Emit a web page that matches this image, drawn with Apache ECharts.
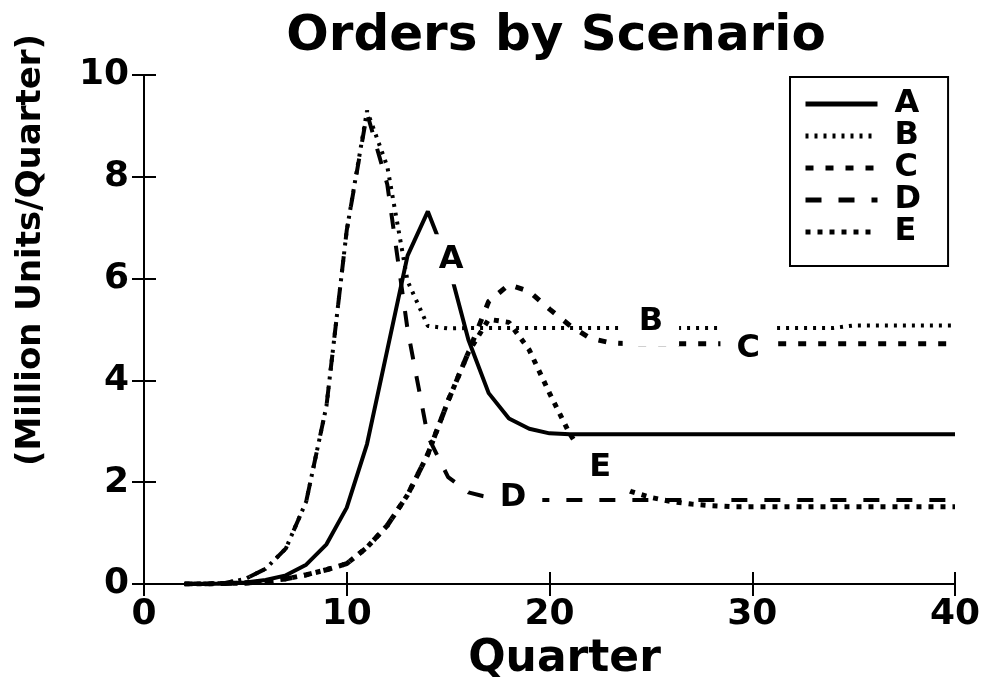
<!DOCTYPE html>
<html>
<head>
<meta charset="utf-8">
<title>Orders by Scenario</title>
<script src="https://cdn.jsdelivr.net/npm/echarts@6/dist/echarts.min.js"></script>
<style>
  html, body { margin: 0; padding: 0; background: #fff; }
  #chart { width: 987px; height: 677px; }
</style>
</head>
<body>
<div id="chart"></div>
<script>
/* ================================
   DATA
================================ */
const quarters = [2, 3, 4, 5, 6, 7, 8, 9, 10, 11, 12, 13, 14, 15, 16, 17, 18, 19, 20, 21,
                  22, 23, 24, 25, 26, 27, 28, 29, 30, 31, 32, 33, 34, 35, 36, 37, 38, 39, 40];

const seriesA = [0, 0, 0.01, 0.03, 0.08, 0.17, 0.38, 0.78, 1.5, 2.75, 4.6, 6.45, 7.32, 6.3, 4.8, 3.75, 3.25, 3.05, 2.96,
                 2.94, 2.94, 2.94, 2.94, 2.94, 2.94, 2.94, 2.94, 2.94, 2.94,
                 2.94, 2.94, 2.94, 2.94, 2.94, 2.94, 2.94, 2.94, 2.94, 2.94];
const seriesB = [0, 0.01, 0.02, 0.1, 0.3, 0.7, 1.62, 3.5, 6.95, 9.3, 8.2, 5.95, 5.07, 5.02,
                 5.03, 5.03, 5.03, 5.03, 5.03, 5.03, 5.03, 5.03, 5.03, 5.03,
                 5.03, 5.03, 5.03, 5.03, 5.03, 5.03, 5.03, 5.03, 5.03,
                 5.08, 5.08, 5.08, 5.08, 5.08, 5.08];
const seriesC = [0, 0, 0.01, 0.02, 0.05, 0.1, 0.18, 0.28, 0.4, 0.72, 1.15, 1.75, 2.55, 3.6, 4.55,
                 5.55, 5.88, 5.75, 5.4, 5.08, 4.83, 4.74, 4.72,
                 4.72, 4.72, 4.72, 4.72, 4.72, 4.72, 4.72, 4.72,
                 4.72, 4.72, 4.72, 4.72, 4.72, 4.72, 4.72, 4.72];
const seriesD = [0, 0.01, 0.02, 0.1, 0.3, 0.7, 1.62, 3.5, 6.95, 9.25, 7.85, 5.0, 2.9, 2.1, 1.8, 1.7, 1.67,
                 1.65, 1.65, 1.65, 1.65, 1.65, 1.65, 1.65, 1.65, 1.65, 1.65, 1.65,
                 1.65, 1.65, 1.65, 1.65, 1.65, 1.65, 1.65, 1.65, 1.65, 1.65, 1.65];
const seriesE = [0, 0, 0.01, 0.02, 0.05, 0.1, 0.18, 0.28, 0.4, 0.72, 1.15, 1.75, 2.55, 3.6, 4.55,
                 5.2, 5.14, 4.6, 3.75, 2.95, 2.35, 2.0, 1.82, 1.7, 1.62, 1.57, 1.54,
                 1.52, 1.52, 1.52, 1.52, 1.52, 1.52, 1.52, 1.52, 1.52, 1.52, 1.52, 1.52];

// in-plot curve labels: [quarter, value, text]
const curveLabels = [
  [15.15, 6.38, "A"],
  [25.0, 5.16, "B"],
  [29.8, 4.62, "C"],
  [18.2, 1.7, "D"],
  [22.5, 2.28, "E"]
];

const xTicks = [0, 10, 20, 30, 40];
const yTicks = [0, 2, 4, 6, 8, 10];

/* ================================
   HELPERS
================================ */
const FONT = "DejaVu Sans";

function pairs(values) {
  return quarters.map((q, i) => [q, values[i]]);
}

function lineSeries(name, values, dash, width) {
  return {
    name: name,
    type: "line",
    data: pairs(values),
    symbol: "none",
    z: 2,
    lineStyle: { color: "#000", width: width, type: dash },
    itemStyle: { color: "#000" }
  };
}

/* ================================
   CHART
================================ */
const chart = echarts.init(document.getElementById("chart"));

const axisCommon = {
  type: "value",
  axisLine: { show: true, lineStyle: { color: "#000", width: 2 } },
  axisTick: { show: true, inside: false, length: 12, lineStyle: { color: "#000", width: 2 } },
  splitLine: { show: false }
};

chart.setOption({
  animation: false,
  backgroundColor: "#fff",
  title: {
    text: "Orders by Scenario",
    left: 551,
    top: 7,
    textAlign: "center",
    textStyle: { fontFamily: FONT, fontWeight: "bold", fontSize: 50, color: "#000" }
  },
  grid: { left: 144, right: 32, top: 75, bottom: 93, outerBoundsMode: "none" },
  legend: {
    data: ["A", "B", "C", "D", "E"],
    orient: "vertical",
    left: 790,
    top: 77,
    itemWidth: 72,
    itemHeight: 26,
    itemGap: 0,
    padding: [11, 27, 18, 13],
    borderColor: "#000",
    borderWidth: 2,
    backgroundColor: "#fff",
    itemStyle: { opacity: 0 },
    lineStyle: { width: 5 },
    textStyle: {
      fontFamily: FONT, fontWeight: "bold", fontSize: 32,
      color: "#000", padding: [0, 0, 0, 12]
    }
  },
  xAxis: [
    Object.assign({}, axisCommon, {
      position: "bottom",
      min: xTicks[0], max: xTicks[xTicks.length - 1], interval: 10,
      name: "Quarter",
      nameLocation: "middle",
      nameGap: 48,
      nameTextStyle: { fontFamily: FONT, fontWeight: "bold", fontSize: 44, color: "#000", padding: [0, 0, 0, 30] },
      axisLabel: { fontFamily: FONT, fontWeight: "bold", fontSize: 36, color: "#000", margin: 13 }
    }),
    Object.assign({}, axisCommon, {
      position: "top",
      min: xTicks[0], max: xTicks[xTicks.length - 1], interval: 10,
      axisLabel: { show: false }
    })
  ],
  yAxis: [
    Object.assign({}, axisCommon, {
      position: "left",
      min: yTicks[0], max: yTicks[yTicks.length - 1], interval: 2,
      axisLabel: { fontFamily: FONT, fontWeight: "bold", fontSize: 36, color: "#000", margin: 15 }
    }),
    Object.assign({}, axisCommon, {
      position: "right",
      min: yTicks[0], max: yTicks[yTicks.length - 1], interval: 2,
      axisLabel: { show: false }
    })
  ],
  graphic: [{
    type: "text",
    x: 31,
    y: 250,
    rotation: Math.PI / 2,
    style: {
      text: "(Million Units/Quarter)",
      fontFamily: FONT,
      fontWeight: "bold",
      fontSize: 34,
      fill: "#000",
      textAlign: "center",
      textVerticalAlign: "middle"
    }
  }],
  series: [
    lineSeries("A", seriesA, "solid", 4),
    lineSeries("B", seriesB, [3, 6], 4),
    lineSeries("C", seriesC, [8, 12], 5),
    lineSeries("D", seriesD, [16, 17], 4),
    lineSeries("E", seriesE, [5, 7], 5),
    {
      name: "labels",
      type: "scatter",
      data: curveLabels,
      symbolSize: 1,
      z: 10,
      itemStyle: { color: "rgba(0,0,0,0)", opacity: 1 },
      label: {
        show: true,
        position: "inside",
        formatter: p => p.data[2],
        fontFamily: FONT,
        fontWeight: "bold",
        fontSize: 32,
        color: "#000",
        opacity: 1,
        backgroundColor: "#fff",
        padding: [9, 16]
      }
    }
  ]
});
</script>
</body>
</html>
